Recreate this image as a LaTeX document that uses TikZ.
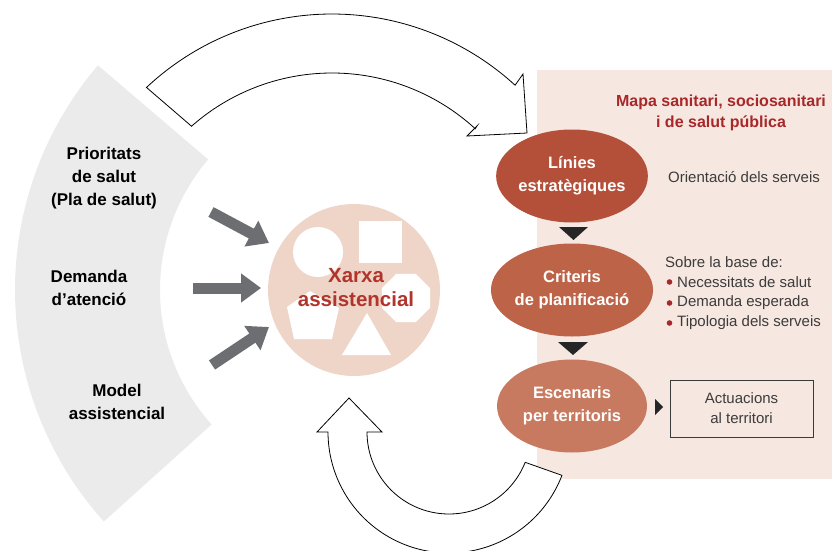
\documentclass[tikz,border=0pt]{standalone}
\usepackage{fontspec}
\setmainfont{Liberation Sans}
\usetikzlibrary{arrows.meta,shapes.geometric}
\definecolor{bandgray}{HTML}{EBEBEB}
\definecolor{arrgray}{HTML}{6D6E71}
\definecolor{circfill}{HTML}{EFD5C8}
\definecolor{panel}{HTML}{F6E7E0}
\definecolor{ellA}{HTML}{B4503A}
\definecolor{ellB}{HTML}{BD6448}
\definecolor{ellC}{HTML}{C77A5F}
\definecolor{titlered}{HTML}{A8282A}
\definecolor{xarxared}{HTML}{B1352C}
\definecolor{bodytext}{HTML}{3C3C3C}
\definecolor{boxline}{HTML}{3A3A3A}
\tikzset{
  bigarrow/.style={draw=black, line width=0.8pt, fill=white, line join=miter},
  grayarrow/.style={draw=arrgray, line width=11pt, -{Triangle[width=28pt,length=20pt]}},
  lefttext/.style={font=\bfseries\fontsize{17}{23}\selectfont, align=center, text=black},
  ellnode/.style={ellipse, minimum width=150pt, minimum height=93pt, inner sep=0pt,
     text=white, font=\bfseries\fontsize{16.5}{23}\selectfont, align=center},
  bodynode/.style={font=\fontsize{15}{20}\selectfont, text=bodytext, anchor=west, inner sep=0pt},
  whiteshape/.style={fill=white, draw=none},
  blacktri/.style={fill=black!85, draw=none}
}
\begin{document}
\begin{tikzpicture}[x=1pt,y=-1pt]
\useasboundingbox (0,0) rectangle (832,551);
% left grey band
\fill[bandgray] plot[domain=138:220.5, samples=80] ({361+346*cos(\x)},{290+346*sin(\x)})
   -- plot[domain=220.5:138, samples=80] ({361+201*cos(\x)},{290+201*sin(\x)}) -- cycle;
% right panel
\fill[panel] (537,70) rectangle (832,479);
% top curved arrow
\draw[bigarrow] plot[domain=-133.2:-47.5, samples=80] ({332+271*cos(\x)},{285+271*sin(\x)})
   -- (523,74) -- (527,133) -- (467,136) -- (477,126)
   -- plot[domain=-47.5:-131.5, samples=80] ({332+212*cos(\x)},{285+212*sin(\x)}) -- cycle;
% bottom U arrow
\draw[bigarrow] (328,432) -- (317,432) -- (349,398) -- (382,432) -- (367,432)
   -- plot[domain=180:21.7, samples=80] ({449+82*cos(\x)},{432+82*sin(\x)})
   -- plot[domain=21:180, samples=80] ({449+121*cos(\x)},{432+121*sin(\x)}) -- cycle;
% central circle
\node[circle, fill=circfill, minimum size=172pt, inner sep=0pt] (xarxa) at (354,290) {};
\fill[whiteshape] (318,252) circle (25);
\fill[whiteshape] (359,221) rectangle (402,263);
\node[regular polygon, regular polygon sides=8, minimum size=52pt, inner sep=0pt, whiteshape] (octa) at (406,298) {};
\fill[whiteshape] (310,291) -- (339,308) -- (332,339) -- (294,339) -- (287,307) -- cycle;
\fill[whiteshape] (367,313) -- (391,355) -- (342,355) -- cycle;
\node[font=\bfseries\fontsize{20.5}{24}\selectfont, text=xarxared, align=center] (xarxatext) at (356,288) {Xarxa\\assistencial};
% left labels
\node[lefttext] (prior) at (104,178) {Prioritats\\de salut\\(Pla de salut)};
\node[lefttext] (demanda) at (89,288) {Demanda\\d’atenció};
\node[lefttext] (model) at (117,402) {Model\\assistencial};
% grey arrows
\coordinate (g1s) at (211,212); \coordinate (g1e) at (269,243);
\coordinate (g2s) at (193,288); \coordinate (g2e) at (261,288);
\coordinate (g3s) at (212,365); \coordinate (g3e) at (269,327);
\draw[grayarrow] (g1s) -- (g1e);
\draw[grayarrow] (g2s) -- (g2e);
\draw[grayarrow] (g3s) -- (g3e);
% title
\node[font=\bfseries\fontsize{16}{21}\selectfont, text=titlered, align=center] (title) at (721,113) {Mapa sanitari, sociosanitari\\i de salut pública};
% ellipses
\node[ellnode, fill=ellA] (linies) at (572,176) {Línies\\estratègiques};
\node[ellnode, fill=ellB] (criteris) at (572,290) {Criteris\\de planificació};
\node[ellnode, fill=ellC] (escen) at (572,406) {Escenaris\\per territoris};
% black triangles
\fill[blacktri] (559,227) -- (588,227) -- (573.5,240) -- cycle;
\fill[blacktri] (558,342) -- (588,342) -- (573,355) -- cycle;
\fill[blacktri] (655,399) -- (663,407) -- (655,415) -- cycle;
% right texts
\node[bodynode] (orient) at (668,177) {Orientació dels serveis};
\node[bodynode] (sobre) at (665,262) {Sobre la base de:};
\fill[titlered] (669.5,282) circle (2.8);
\fill[titlered] (669.5,303) circle (2.8);
\fill[titlered] (669.5,323) circle (2.8);
\node[bodynode] (b1) at (677,282) {Necessitats de salut};
\node[bodynode] (b2) at (677,303) {Demanda esperada};
\node[bodynode] (b3) at (677,323) {Tipologia dels serveis};
% box
\node[draw=boxline, line width=0.9pt, minimum width=143pt, minimum height=57pt, inner sep=0pt,
  font=\fontsize{15}{20}\selectfont, text=bodytext, align=center] (actu) at (741.5,408.5) {Actuacions\\al territori};
\end{tikzpicture}
\end{document}
